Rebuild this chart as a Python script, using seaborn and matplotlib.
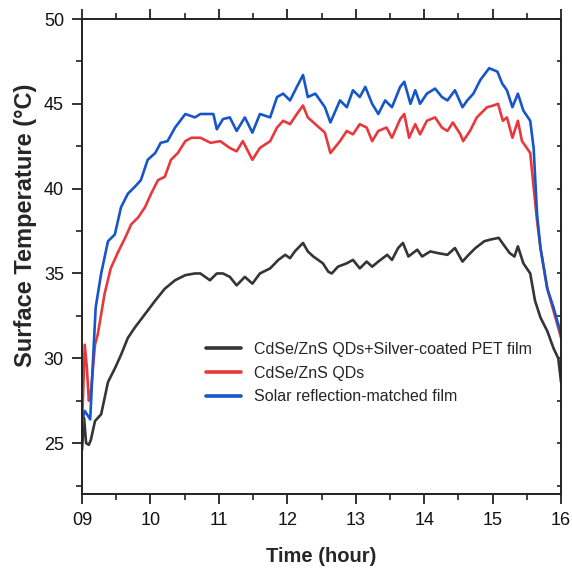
import numpy as np
import pandas as pd
import matplotlib
matplotlib.use("Agg")
import matplotlib.pyplot as plt
import seaborn as sns
from matplotlib.ticker import MultipleLocator

sns.set_style("white")
plt.rcParams['font.family'] = ['Liberation Sans', 'DejaVu Sans']

series_names = ["CdSe/ZnS QDs+Silver-coated PET film", "CdSe/ZnS QDs", "Solar reflection-matched film"]
series_colors = ["#353535", "#e8383c", "#1756c8"]

black_t = [9.00, 9.03, 9.06, 9.10, 9.13, 9.19, 9.28, 9.38, 9.48, 9.57, 9.67, 9.77, 9.92, 10.07, 10.15, 10.21,
           10.36, 10.51, 10.65, 10.73, 10.87, 10.97, 11.06, 11.16, 11.26, 11.38, 11.49, 11.60, 11.75, 11.87,
           11.97, 12.04, 12.11, 12.23, 12.30, 12.38, 12.45, 12.52, 12.60, 12.65, 12.74, 12.87, 12.96, 13.06,
           13.16, 13.24, 13.33, 13.46, 13.53, 13.62, 13.69, 13.77, 13.90, 13.97, 14.09, 14.20, 14.34, 14.45,
           14.56, 14.65, 14.75, 14.88, 14.97, 15.09, 15.16, 15.25, 15.32, 15.37, 15.45, 15.55, 15.62, 15.70,
           15.80, 15.89, 15.96, 16.00]
black_v = [24.6, 26.5, 25.0, 24.9, 25.2, 26.3, 26.7, 28.6, 29.4, 30.2, 31.2, 31.8, 32.6, 33.4, 33.8, 34.1,
           34.6, 34.9, 35.0, 35.0, 34.6, 35.0, 35.0, 34.8, 34.3, 34.8, 34.4, 35.0, 35.3, 35.8,
           36.1, 35.9, 36.3, 36.8, 36.3, 36.0, 35.8, 35.6, 35.1, 35.0, 35.4, 35.6, 35.8, 35.3,
           35.7, 35.4, 35.7, 36.1, 35.8, 36.5, 36.8, 36.0, 36.4, 36.0, 36.3, 36.2, 36.1, 36.5,
           35.7, 36.1, 36.5, 36.9, 37.0, 37.1, 36.7, 36.2, 36.0, 36.6, 35.6, 35.0, 33.4, 32.4,
           31.6, 30.6, 30.0, 28.6]

red_t = [9.00, 9.04, 9.07, 9.10, 9.13, 9.19, 9.23, 9.33, 9.42, 9.52, 9.63, 9.72, 9.82, 9.92, 10.01, 10.11,
         10.21, 10.30, 10.40, 10.51, 10.60, 10.73, 10.88, 11.02, 11.16, 11.26, 11.35, 11.49, 11.60, 11.75,
         11.85, 11.94, 12.04, 12.14, 12.23, 12.30, 12.41, 12.55, 12.63, 12.77, 12.87, 12.96, 13.06, 13.16,
         13.24, 13.33, 13.45, 13.53, 13.65, 13.71, 13.78, 13.87, 13.94, 14.04, 14.16, 14.26, 14.34, 14.42,
         14.53, 14.57, 14.67, 14.77, 14.92, 15.01, 15.08, 15.15, 15.21, 15.29, 15.37, 15.43, 15.50, 15.55,
         15.60, 15.65, 15.70, 15.80, 15.89, 15.96, 16.00]
red_v = [26.0, 30.8, 29.5, 27.5, 28.0, 30.8, 31.4, 33.8, 35.3, 36.2, 37.1, 37.9, 38.3, 38.9, 39.7, 40.5,
         40.7, 41.7, 42.1, 42.8, 43.0, 43.0, 42.7, 42.8, 42.4, 42.2, 42.8, 41.7, 42.4, 42.8,
         43.6, 44.0, 43.8, 44.4, 44.9, 44.2, 43.8, 43.3, 42.1, 42.8, 43.4, 43.2, 43.8, 43.6,
         42.8, 43.4, 43.6, 43.0, 44.1, 44.4, 43.0, 43.8, 43.2, 44.0, 44.2, 43.6, 43.4, 43.9,
         43.2, 42.8, 43.4, 44.2, 44.8, 44.9, 45.0, 44.0, 44.2, 43.0, 44.0, 42.8, 42.4, 42.1,
         40.1, 38.1, 36.5, 34.1, 32.8, 31.8, 31.2]

blue_t = [9.00, 9.04, 9.12, 9.16, 9.20, 9.28, 9.38, 9.48, 9.57, 9.67, 9.77, 9.86, 9.96, 10.07, 10.15, 10.25,
          10.36, 10.51, 10.65, 10.73, 10.92, 10.97, 11.06, 11.16, 11.26, 11.38, 11.49, 11.60, 11.75, 11.85,
          11.94, 12.04, 12.14, 12.23, 12.30, 12.41, 12.55, 12.63, 12.77, 12.87, 12.96, 13.06, 13.14, 13.24,
          13.33, 13.43, 13.53, 13.65, 13.71, 13.80, 13.87, 13.94, 14.04, 14.16, 14.26, 14.34, 14.45, 14.56,
          14.63, 14.72, 14.82, 14.95, 15.07, 15.14, 15.21, 15.29, 15.37, 15.45, 15.55, 15.60, 15.65, 15.70,
          15.80, 15.89, 15.96, 16.00]
blue_v = [26.3, 26.9, 26.4, 29.8, 33.0, 35.0, 36.9, 37.3, 38.9, 39.7, 40.1, 40.5, 41.7, 42.1, 42.7, 42.8,
          43.6, 44.4, 44.2, 44.4, 44.4, 43.5, 44.1, 44.2, 43.4, 44.2, 43.3, 44.4, 44.2, 45.4,
          45.6, 45.2, 46.0, 46.7, 45.4, 45.6, 44.8, 43.9, 45.2, 44.8, 45.8, 45.4, 46.0, 45.0,
          44.4, 45.2, 44.8, 46.0, 46.3, 45.0, 45.8, 45.0, 45.6, 45.9, 45.4, 45.2, 45.8, 44.8,
          45.2, 45.6, 46.4, 47.1, 46.9, 46.2, 45.8, 44.8, 45.6, 44.6, 44.0, 42.4, 38.5, 36.5,
          34.1, 33.0, 32.0, 31.4]

x_ticks = [9, 10, 11, 12, 13, 14, 15, 16]
x_tick_labels = ["09", "10", "11", "12", "13", "14", "15", "16"]
y_ticks = [25, 30, 35, 40, 45, 50]

frames = []
for name, t, v in zip(series_names, [black_t, red_t, blue_t], [black_v, red_v, blue_v]):
    frames.append(pd.DataFrame({"Time": t, "Temp": v, "Sample": name}))
df = pd.concat(frames, ignore_index=True)

W, H = 572, 569
fig = plt.figure(figsize=(W / 100, H / 100), dpi=100)
ax = fig.add_axes([82 / W, (H - 494) / H, 479 / W, 475 / H])

sns.lineplot(data=df, x="Time", y="Temp", hue="Sample", hue_order=series_names,
             palette=dict(zip(series_names, series_colors)), sort=False, estimator=None,
             linewidth=1.9, ax=ax)

ax.set_xlim(9, 16)
ax.set_ylim(22, 50)
ax.set_xticks(x_ticks)
ax.set_xticklabels(x_tick_labels)
ax.set_yticks(y_ticks)
ax.xaxis.set_minor_locator(MultipleLocator(0.5))
ax.yaxis.set_minor_locator(MultipleLocator(2.5))

for s in ax.spines.values():
    s.set_linewidth(1.4)
    s.set_color("#222222")

ax.tick_params(which="both", direction="out", top=True, bottom=True, left=True, right=False,
               labelsize=13, colors="#222222", labelcolor="#111111")
ax.tick_params(which="major", length=7, width=1.3, pad=6)
ax.tick_params(which="minor", length=4, width=1.2)

sec = ax.secondary_yaxis("right")
sec.set_yticks(y_ticks)
sec.yaxis.set_minor_locator(MultipleLocator(2.5))
sec.tick_params(which="both", direction="in", length=3, width=1.2, labelright=False, colors="#222222")
sec.spines["right"].set_visible(False)

ax.set_xlabel("Time (hour)", fontsize=14.5, fontweight="bold", labelpad=13)
ax.set_ylabel("Surface Temperature (°C)", fontsize=17, fontweight="bold")
ax.yaxis.set_label_coords(-0.093, 0.566)

leg = ax.legend(loc="lower left", bbox_to_anchor=(0.245, 0.175), frameon=False, fontsize=11.5,
                handlelength=2.2, handletextpad=0.8, labelspacing=0.55, borderaxespad=0)
for line in leg.get_lines():
    line.set_linewidth(2.6)

fig.savefig("out.png", dpi=100)
